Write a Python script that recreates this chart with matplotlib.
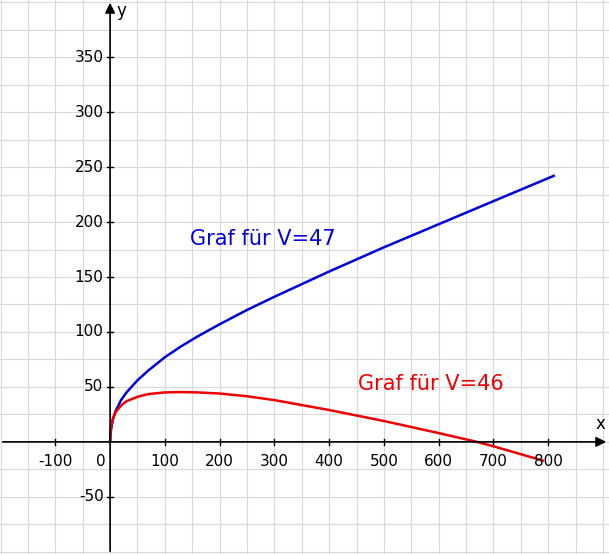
import matplotlib.pyplot as plt
import numpy as np

# curves
blue_x = [0, 1, 2, 5, 10, 20, 30, 50, 70, 100, 130, 160, 200, 250, 300, 400, 500, 600, 700, 810]
blue_y = [0, 8, 12, 20, 28, 38, 45, 56, 65, 77, 87, 96, 107, 120, 132, 155, 177, 198, 219, 242]
red_x = [0, 1, 2, 5, 10, 20, 30, 50, 70, 100, 130, 160, 200, 250, 300, 400, 500, 600, 670, 700, 790]
red_y = [0, 9, 14, 21, 27, 33, 37, 41, 43.5, 45, 45.3, 45, 44, 41.5, 38, 29, 19, 8, 0, -4, -17]

x_ticks = [-100, 0, 100, 200, 300, 400, 500, 600, 700, 800]
y_ticks = [-50, 50, 100, 150, 200, 250, 300, 350]

fig = plt.figure(figsize=(6.09, 5.54), dpi=100)
ax = fig.add_axes([0, 0, 1, 1])
ax.set_xlim(-201, 911)
ax.set_ylim(-102, 402)
ax.axis('off')

for gx in np.arange(-200, 901, 50):
    ax.axvline(gx, color='#d8d8d8', lw=0.8, zorder=0)
for gy in np.arange(-100, 401, 25):
    ax.axhline(gy, color='#d8d8d8', lw=0.8, zorder=0)

ax.annotate('', xy=(911, 0), xytext=(-201, 0),
            arrowprops=dict(arrowstyle='-|>', color='black', lw=1.2, mutation_scale=15))
ax.annotate('', xy=(0, 402), xytext=(0, -102),
            arrowprops=dict(arrowstyle='-|>', color='black', lw=1.2, mutation_scale=15))
ax.text(895, 8, 'x', fontsize=12, ha='center', va='bottom')
ax.text(12, 392, 'y', fontsize=12, ha='left', va='center')

for t in x_ticks:
    if t != 0:
        ax.plot([t, t], [-3, 3], color='black', lw=1)
    ax.text(t - (17 if t == 0 else 0), -11, str(t), fontsize=11, ha='center', va='top')
for t in y_ticks:
    ax.plot([-6, 6], [t, t], color='black', lw=1)
    ax.text(-12, t, str(t), fontsize=11, ha='right', va='center')

ax.plot(blue_x, blue_y, color='#0000dd', lw=1.8)
ax.plot(red_x, red_y, color='#ee0000', lw=1.8)
ax.text(146, 185, 'Graf für V=47', color='#0000dd', fontsize=15, va='center')
ax.text(452, 53, 'Graf für V=46', color='#ee0000', fontsize=15, va='center')

fig.savefig('out.png', dpi=100)
